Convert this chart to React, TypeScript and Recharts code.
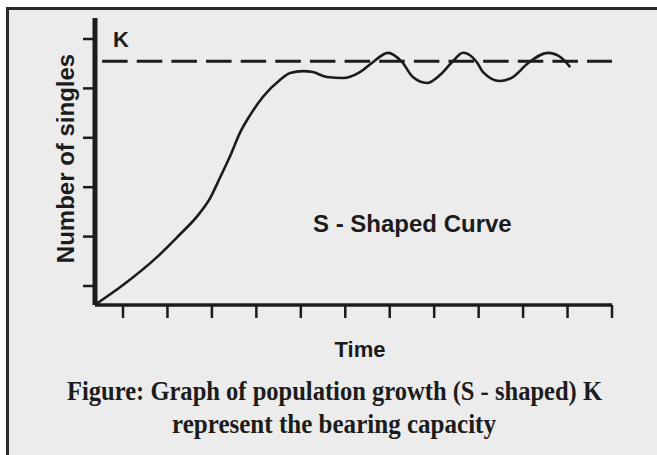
import { LineChart, Line, XAxis, YAxis, ReferenceLine, Customized } from "recharts";

// time (axis units, 1 unit per tick) and population size (1 unit per tick)
const TIME = [0.37, 1.0, 1.77, 2.22, 2.73, 2.96, 3.18, 3.41, 3.63, 3.86, 4.15, 4.53, 4.76, 5.05, 5.27, 5.59, 5.95, 6.33, 6.62, 6.96, 7.28, 7.52, 7.84, 8.13, 8.4, 8.65, 8.96, 9.1, 9.48, 9.77, 10.11, 10.56, 10.83, 11.06];
const POPULATION = [0.62, 1.02, 1.59, 1.99, 2.48, 2.78, 3.19, 3.63, 4.1, 4.46, 4.83, 5.17, 5.31, 5.35, 5.33, 5.23, 5.21, 5.33, 5.53, 5.72, 5.53, 5.23, 5.11, 5.27, 5.53, 5.72, 5.53, 5.33, 5.15, 5.23, 5.51, 5.72, 5.64, 5.43];
const X_TICKS = [1, 2, 3, 4, 5, 6, 7, 8, 9, 10, 11, 12];
const Y_TICKS = [1, 2, 3, 4, 5, 6];
const K = 5.55;
const K_START = 0.53;

const data = TIME.map((t, i) => ({ t, n: POPULATION[i] }));

const INK = "#1c1c1c";
const SANS = "'Liberation Sans', Arial, sans-serif";
const SERIF = "'Liberation Serif', 'Times New Roman', serif";

const NoLabel = () => <g />;

const Texts = () => (
  <g>
    <text x={113} y={47} fontFamily={SANS} fontWeight="bold" fontSize={22} fill={INK}>K</text>
    <text x={74} y={158.5} transform="rotate(-90, 74, 158.5)" textAnchor="middle" fontFamily={SANS} fontWeight="bold" fontSize={24} fill={INK}>
      Number of singles
    </text>
    <text x={313} y={232} fontFamily={SANS} fontWeight="bold" fontSize={24} fill={INK}>S - Shaped Curve</text>
    <text x={360} y={357} textAnchor="middle" fontFamily={SANS} fontWeight="bold" fontSize={22} fill={INK}>Time</text>
    <text x={334.5} y={400} textAnchor="middle" fontFamily={SERIF} fontWeight="bold" fontSize={27} fill={INK} textLength={535} lengthAdjust="spacingAndGlyphs">
      Figure: Graph of population growth (S - shaped) K
    </text>
    <text x={334} y={433} textAnchor="middle" fontFamily={SERIF} fontWeight="bold" fontSize={27} fill={INK} textLength={324} lengthAdjust="spacingAndGlyphs">
      represent the bearing capacity
    </text>
  </g>
);

export default function App() {
  return (
    <div style={{ position: "absolute", left: 0, top: 0, width: 657, height: 455, background: "#fff", overflow: "hidden" }}>
      <div style={{ position: "absolute", left: 6, top: 7, right: 0, bottom: 0, borderLeft: "3px solid #2a2a2a", borderTop: "3px solid #2a2a2a", background: "#ececec" }} />
      <div style={{ position: "absolute", left: 0, top: 0 }}>
        <LineChart width={657} height={455} data={data} margin={{ top: 18, right: 45, left: 0, bottom: 0 }}>
          <XAxis
            type="number"
            dataKey="t"
            domain={[0.37, 12]}
            ticks={X_TICKS}
            allowDataOverflow
            tick={NoLabel}
            tickSize={13}
            height={150}
            axisLine={{ stroke: INK, strokeWidth: 3.5 }}
            tickLine={{ stroke: INK, strokeWidth: 2.5 }}
          />
          <YAxis
            type="number"
            domain={[0.615, 6.425]}
            ticks={Y_TICKS}
            allowDataOverflow
            tick={NoLabel}
            tickSize={12}
            width={95}
            axisLine={{ stroke: INK, strokeWidth: 5 }}
            tickLine={{ stroke: INK, strokeWidth: 2.5 }}
          />
          <ReferenceLine
            segment={[{ x: K_START, y: K }, { x: 12, y: K }]}
            stroke={INK}
            strokeWidth={3}
            strokeDasharray="25.5 9.14"
          />
          <Line
            type="monotone"
            dataKey="n"
            stroke={INK}
            strokeWidth={2.6}
            dot={false}
            isAnimationActive={false}
          />
          <Customized component={Texts} />
        </LineChart>
      </div>
    </div>
  );
}
